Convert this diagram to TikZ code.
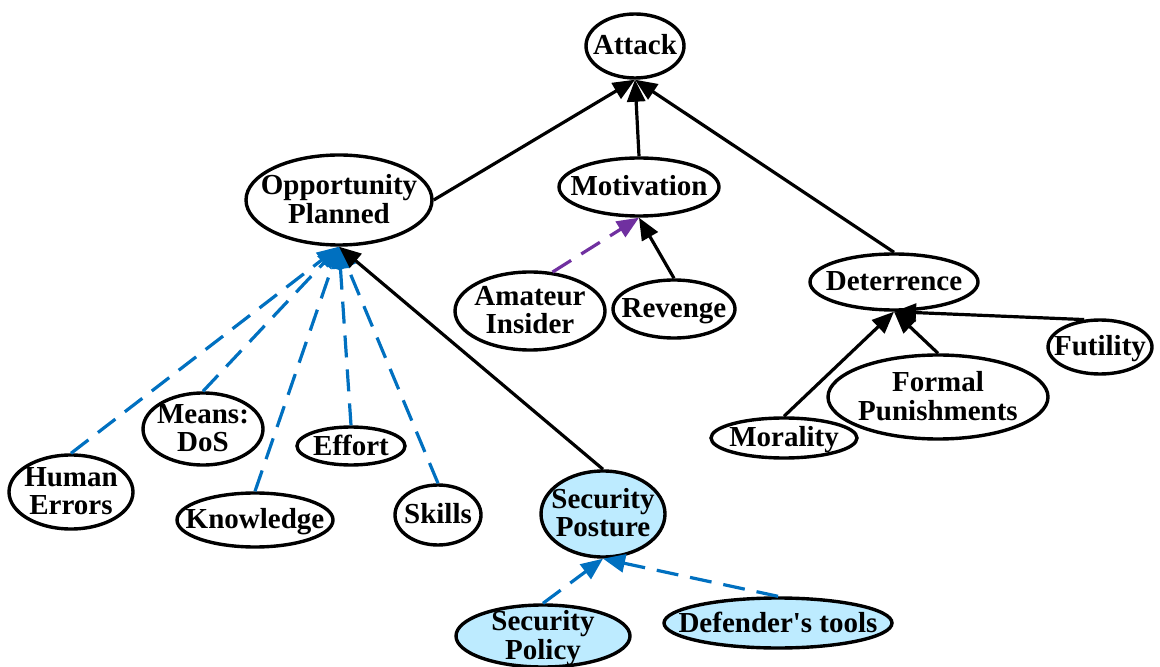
\documentclass[tikz,border=0pt]{standalone}
\usepackage{fontspec}
\setmainfont{Liberation Serif}
\usetikzlibrary{shapes.geometric,arrows.meta}

\definecolor{linkblue}{HTML}{0070C0}
\definecolor{linkpurple}{HTML}{7030A0}
\definecolor{postfill}{HTML}{BDEBFF}

% label text takes no room, so the oval keeps the size it is given
\newcommand{\ovaltext}[1]{%
  \raisebox{\dimexpr(\depth-\height)/2-1.5pt\relax}[0pt][0pt]{%
    \makebox[0pt]{\begin{tabular}[b]{@{}c@{}}#1\end{tabular}}}}

\tikzset{
  oval/.style={ellipse, draw, line width=1.7pt, inner sep=0pt,
    font=\fontsize{14.5}{14}\selectfont\bfseries},
  defbox/.style={oval, fill=postfill},
  arr/.style={line width=1.6pt, -{Triangle[length=11pt,width=9pt]}},
  dasharr/.style={arr, dash pattern=on 11pt off 6pt},
}

\begin{document}
\begin{tikzpicture}[x=0.5pt,y=-0.5pt]
\useasboundingbox (0,0) rectangle (1160,667);

% top level
\node[oval, minimum width=49pt, minimum height=32pt] (attack) at (635,46) {\ovaltext{Attack}};
\node[oval, minimum width=93pt, minimum height=45pt] (opp) at (339,200) {\ovaltext{Opportunity\\Planned}};
\node[oval, minimum width=80pt, minimum height=29pt] (motiv) at (639,187) {\ovaltext{Motivation}};
\node[oval, minimum width=84pt, minimum height=28pt] (deter) at (894,282) {\ovaltext{Deterrence}};

% motivation branch
\node[oval, minimum width=75pt, minimum height=39pt] (amateur) at (530,311) {\ovaltext{Amateur\\Insider}};
\node[oval, minimum width=61pt, minimum height=29pt] (revenge) at (674,309) {\ovaltext{Revenge}};

% deterrence branch
\node[oval, minimum width=52pt, minimum height=27pt] (futil) at (1100,347) {\ovaltext{Futility}};
\node[oval, minimum width=110pt, minimum height=42pt] (formal) at (938,397) {\ovaltext{Formal\\Punishments}};
\node[oval, minimum width=73pt, minimum height=20pt] (moral) at (784,438) {\ovaltext{Morality}};

% opportunity branch
\node[oval, minimum width=60pt, minimum height=36pt] (dos) at (203,429) {\ovaltext{Means:\\DoS}};
\node[oval, minimum width=54pt, minimum height=19pt] (effort) at (351,446) {\ovaltext{Effort}};
\node[oval, minimum width=62pt, minimum height=37pt] (human) at (71,492) {\ovaltext{Human\\Errors}};
\node[oval, minimum width=78pt, minimum height=27pt] (know) at (255,520) {\ovaltext{Knowledge}};
\node[oval, minimum width=43pt, minimum height=30pt] (skills) at (438,515) {\ovaltext{Skills}};

% defender side
\node[defbox, minimum width=62pt, minimum height=43pt] (posture) at (603,514) {\ovaltext{Security\\Posture}};
\node[defbox, minimum width=87pt, minimum height=31pt] (policy) at (543,636) {\ovaltext{Security\\Policy}};
\node[defbox, minimum width=114pt, minimum height=25pt] (tools) at (778,623) {\ovaltext{Defender\textquotesingle s tools}};

% links
\draw[arr] (opp.east) -- (attack.south);
\draw[arr] (motiv.north) -- (attack.south);
\draw[arr] (deter.north) -- (attack.south);

\draw[dasharr, linkpurple] (amateur.60) -- (motiv.south);
\draw[arr] (revenge.north) -- (motiv.south);

\draw[arr] (moral.north) -- (deter.south);
\draw[arr] (formal.north) -- (deter.south);
\draw[arr] (futil.120) -- (deter.south);

\draw[dasharr, linkblue] (human.north) -- (opp.south);
\draw[dasharr, linkblue] (dos.north) -- (opp.south);
\draw[dasharr, linkblue] (know.north) -- (opp.south);
\draw[dasharr, linkblue] (effort.north) -- (opp.south);
\draw[dasharr, linkblue] (skills.north) -- (opp.south);
\draw[arr] (posture.north) -- (opp.south);

\draw[dasharr, linkblue] (policy.north) -- (posture.south);
\draw[dasharr, linkblue] (tools.north) -- (posture.south);
\end{tikzpicture}
\end{document}
